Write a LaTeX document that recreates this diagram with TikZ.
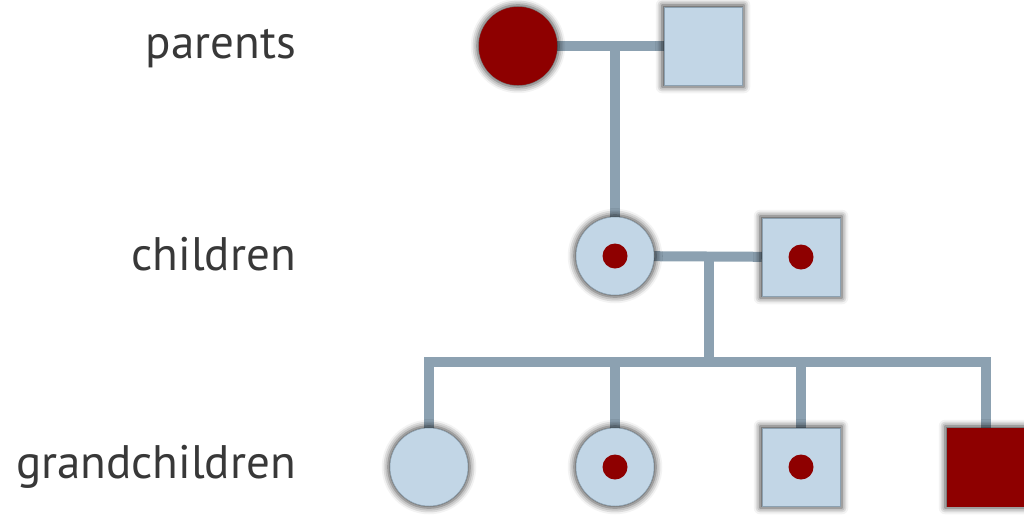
\documentclass[tikz,border=0pt]{standalone}
\usepackage{fontspec}
\setmainfont{PT Sans}
\usetikzlibrary{shadows.blur,calc}
\definecolor{bluefill}{HTML}{C2D6E6}
\definecolor{redfill}{HTML}{8E0000}
\definecolor{linecol}{HTML}{8CA1B1}
\definecolor{labelcol}{HTML}{383838}
\pgfdeclarelayer{bg}
\pgfdeclarelayer{links}
\pgfsetlayers{bg,links,main}

\begin{document}
\begin{tikzpicture}[x=1pt,y=-1pt,
  person/.style={minimum size=78pt, inner sep=0pt, line width=0.5pt,
    blur shadow={shadow xshift=0pt, shadow yshift=0pt, shadow blur radius=6pt,
      shadow opacity=75, shadow scale=1.05}},
  healthy/.style={fill=bluefill, draw=linecol},
  affected/.style={fill=redfill, draw=redfill},
  female/.style={person, circle},
  male/.style={person, rectangle},
  carrier/.style={path picture={\fill[redfill] (path picture bounding box.center) circle (12.5pt);}},
  link/.style={draw=linecol, line width=10pt, line join=miter},
  rowlabel/.style={anchor=base east, text=labelcol, inner sep=0pt,
    font=\fontsize{47}{50}\selectfont}
]
\useasboundingbox (0,0) rectangle (1024,515);
\begin{pgfonlayer}{bg}
  \fill[black] (0,0) rectangle (1024,515);
\end{pgfonlayer}

% generation labels
\node[rowlabel] (lp) at (296,58) {parents};
\node[rowlabel] (lc) at (296,270) {children};
\node[rowlabel] (lg) at (296,478) {grandchildren};

% parents
\node[female, affected] (p1) at (518,46) {};
\node[male, healthy] (p2) at (703,46) {};

% children
\node[female, healthy, carrier] (c1) at (615,256) {};
\node[male, healthy, carrier] (c2) at (801,257) {};

% grandchildren
\node[female, healthy] (g1) at (429,467) {};
\node[female, healthy, carrier] (g2) at (615,467) {};
\node[male, healthy, carrier] (g3) at (801,467) {};
\node[male, affected] (g4) at (986,467) {};

% descent lines
\coordinate (sib) at ($(c1)!0.5!(c2) + (1,105)$);
\begin{pgfonlayer}{links}
  \draw[link] (p1) -- (p2);
  \draw[link] (c1 |- p1) -- (c1);
  \draw[link] (c1) -- (c2);
  \draw[link] ($(c1)!0.5!(c2) + (1,0)$) -- (sib);
  \draw[link] (g1) |- (sib) -| (g4);
  \draw[link] (g2 |- sib) -- (g2);
  \draw[link] (g3 |- sib) -- (g3);
\end{pgfonlayer}
\end{tikzpicture}
\end{document}
